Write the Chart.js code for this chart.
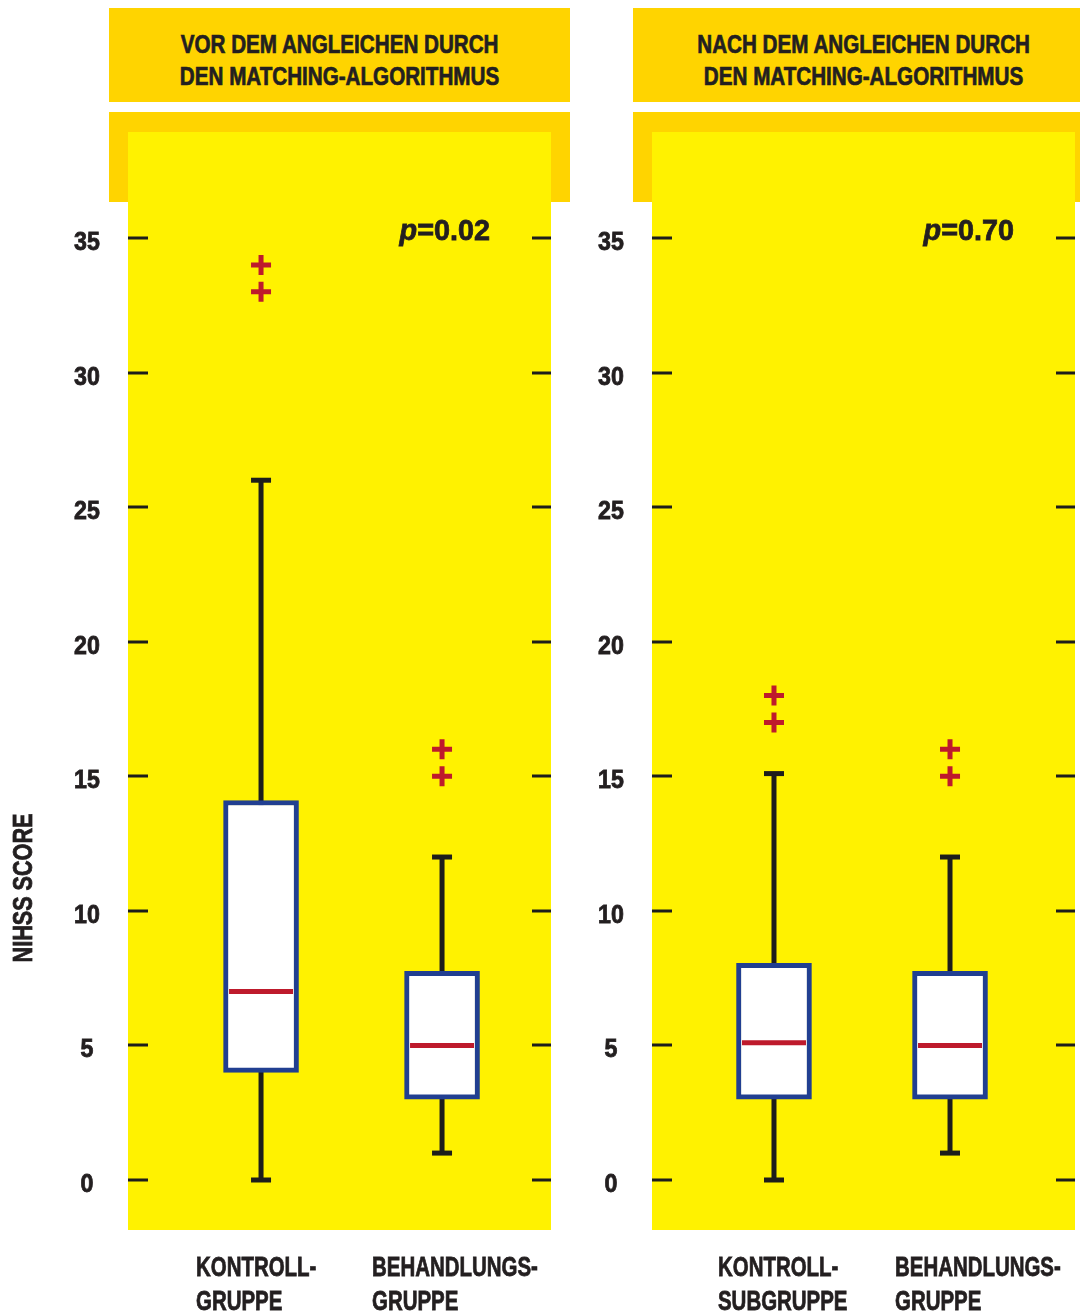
<!DOCTYPE html>
<html>
<head>
<meta charset="utf-8">
<script src="https://cdn.jsdelivr.net/npm/chart.js@4.4.0/dist/chart.umd.min.js"></script>
<style>
  body { margin: 0; background: #fff; width: 1080px; height: 1312px; position: relative; overflow: hidden;
         font-family: 'Liberation Sans', Arial, sans-serif; }
  .head { position: absolute; top: 8px; height: 94px; width: 461px; box-sizing: border-box; padding-top: 20px;
          background: #FFD400; color: #231f20; font-weight: bold; font-size: 25px; line-height: 32px; text-align: center; }
  .head span { display: inline-block; white-space: nowrap; transform: scaleX(0.825); -webkit-text-stroke: 0.7px #231f20; }
  .band { position: absolute; top: 112px; height: 90px; width: 461px; background: #FFD400; }
  canvas { position: absolute; top: 0; }
</style>
</head>
<body>
<div class="head" id="head1" style="left:109px"></div>
<div class="band" style="left:109px"></div>
<div class="head" id="head2" style="left:633px"></div>
<div class="band" style="left:633px"></div>
<canvas id="chartBefore" width="580" height="1312" style="left:0"></canvas>
<canvas id="chartAfter" width="556" height="1312" style="left:524px"></canvas>
<script>
// values
const yTicks = [0, 5, 10, 15, 20, 25, 30, 35];
const titleBefore = ['VOR DEM ANGLEICHEN DURCH', 'DEN MATCHING-ALGORITHMUS'];
const titleAfter = ['NACH DEM ANGLEICHEN DURCH', 'DEN MATCHING-ALGORITHMUS'];
const groupsBefore = [['KONTROLL-', 'GRUPPE'], ['BEHANDLUNGS-', 'GRUPPE']];
const groupsAfter = [['KONTROLL-', 'SUBGRUPPE'], ['BEHANDLUNGS-', 'GRUPPE']];

const minBefore = [0, 1];
const q1Before = [4, 3];
const medianBefore = [7, 5];
const q3Before = [14.1, 7.75];
const maxBefore = [26, 12];
const outliersBefore = [[33, 34], [15, 16]];

const minAfter = [0, 1];
const q1After = [3, 3];
const medianAfter = [5.1, 5];
const q3After = [8.05, 7.75];
const maxAfter = [15.1, 12];
const outliersAfter = [[17, 18], [15, 16]];

const pValues = ['0.02', '0.70'];

const FONT = "'Liberation Sans', Arial, sans-serif";
const INK = '#231f20';
const BLUE = '#213f91';
const RED = '#be1a2c';
const BLACK = '#1d1d1b';

document.getElementById('head1').innerHTML = titleBefore.map(t => `<span>${t}</span>`).join('<br>');
document.getElementById('head2').innerHTML = titleAfter.map(t => `<span>${t}</span>`).join('<br>');

// condensed heavy text: Liberation Sans Bold squeezed horizontally, lightly stroked
function squeeze(ctx, text, x, y, size, sx, align, italic) {
  ctx.save();
  ctx.font = `${italic ? 'italic ' : ''}bold ${size}px ${FONT}`;
  ctx.translate(x, y);
  ctx.scale(sx, 1);
  ctx.textAlign = align;
  ctx.fillStyle = INK;
  ctx.strokeStyle = INK;
  ctx.lineWidth = 0.8;
  ctx.fillText(text, 0, 0);
  ctx.strokeText(text, 0, 0);
  ctx.restore();
}

const decor = {
  id: 'decor',
  beforeDraw(chart) {
    const { ctx, chartArea: a } = chart;
    ctx.save();
    ctx.fillStyle = '#FFF200';
    ctx.fillRect(a.left, a.top, a.right - a.left, a.bottom - a.top);
    ctx.restore();
  },
  afterDraw(chart, args, o) {
    const { ctx, chartArea: a, scales: { x, y } } = chart;
    ctx.save();
    // inner tick marks on both sides + tick labels
    ctx.strokeStyle = BLACK;
    ctx.lineWidth = 3;
    ctx.textBaseline = 'middle';
    yTicks.forEach(v => {
      const py = Math.round(y.getPixelForValue(v));
      ctx.beginPath();
      ctx.moveTo(a.left, py); ctx.lineTo(a.left + 20, py);
      ctx.moveTo(a.right - 19, py); ctx.lineTo(a.right, py);
      ctx.stroke();
      squeeze(ctx, String(v), a.left - 41, py + 5, 25, 0.93, 'center');
    });
    // p value
    ctx.textBaseline = 'alphabetic';
    const size = 30, sx = 0.96;
    ctx.font = `bold ${size}px ${FONT}`;
    const rest = '=' + o.p;
    const wRest = ctx.measureText(rest).width * sx;
    ctx.font = `italic bold ${size}px ${FONT}`;
    const wP = ctx.measureText('p').width * sx;
    const right = a.right - 61;
    squeeze(ctx, rest, right, a.top + 108, size, sx, 'right');
    squeeze(ctx, 'p', right - wRest - wP, a.top + 108, size, sx, 'left', true);
    // group labels
    ctx.textBaseline = 'middle';
    o.groups.forEach((lines, i) => {
      const lx = x.getPixelForValue(i + 1) + o.labelShift[i];
      lines.forEach((t, j) => squeeze(ctx, t, lx, a.bottom + 38 + j * 34, 28, 0.73, 'left'));
    });
    if (o.yTitle) {
      ctx.translate(25, 888);
      ctx.rotate(-Math.PI / 2);
      squeeze(ctx, o.yTitle, 0, 0, 27, 0.8, 'center');
    }
    ctx.restore();
  }
};

function makeChart(id, s, xMin, xMax, boxWidth, padRight, extra) {
  const idx = [0, 1];
  const whiskers = [];
  idx.forEach(i => {
    whiskers.push({ x: i + 1, y: s.min[i] }, { x: i + 1, y: s.max[i] }, { x: i + 1.5, y: null });
  });
  const caps = [];
  idx.forEach(i => caps.push({ x: i + 1, y: s.min[i] }, { x: i + 1, y: s.max[i] }));
  const outl = [];
  idx.forEach(i => s.out[i].forEach(v => outl.push({ x: i + 1, y: v })));

  return new Chart(document.getElementById(id), {
    type: 'bar',
    data: {
      datasets: [
        { type: 'line', data: whiskers, borderColor: BLACK, borderWidth: 5, pointRadius: 0, spanGaps: false, order: 4 },
        { type: 'bar', data: idx.map(i => ({ x: i + 1, y: [s.q1[i], s.q3[i]] })), backgroundColor: '#ffffff',
          borderColor: BLUE, borderWidth: 5, borderSkipped: false, barThickness: boxWidth, order: 3 },
        { type: 'line', data: caps, showLine: false, pointStyle: 'line', pointRadius: 10,
          pointBorderWidth: 5, pointBorderColor: BLACK, order: 2 },
        { type: 'line', data: idx.map(i => ({ x: i + 1, y: s.med[i] })), showLine: false, pointStyle: 'line',
          pointRadius: 32, pointBorderWidth: 5, pointBorderColor: RED, order: 1 },
        { type: 'line', data: outl, showLine: false, pointStyle: 'cross', pointRadius: 10,
          pointBorderWidth: 5, pointBorderColor: RED, order: 1 }
      ]
    },
    options: {
      responsive: false,
      animation: false,
      events: [],
      layout: { autoPadding: false, padding: { left: 0, top: 132, right: padRight, bottom: 82 } },
      plugins: { legend: { display: false }, tooltip: { enabled: false }, decor: extra },
      scales: {
        x: { type: 'linear', min: xMin, max: xMax, offset: false, display: false },
        y: {
          min: -50 / 26.914, max: 35 + 106 / 26.914,
          afterBuildTicks: sc => { sc.ticks = yTicks.map(v => ({ value: v })); },
          afterFit: sc => { sc.width = 128; },
          grid: { display: false },
          border: { display: false },
          ticks: { display: false }
        }
      }
    },
    plugins: [decor]
  });
}

makeChart('chartBefore',
  { min: minBefore, q1: q1Before, med: medianBefore, q3: q3Before, max: maxBefore, out: outliersBefore },
  0.265, 2.602, 75, 29,
  { p: pValues[0], groups: groupsBefore, labelShift: [-65, -70], yTitle: 'NIHSS SCORE' });

makeChart('chartAfter',
  { min: minAfter, q1: q1After, med: medianAfter, q3: q3After, max: maxAfter, out: outliersAfter },
  0.307, 2.71, 75, 5,
  { p: pValues[1], groups: groupsAfter, labelShift: [-56, -55], yTitle: null });
</script>
</body>
</html>
